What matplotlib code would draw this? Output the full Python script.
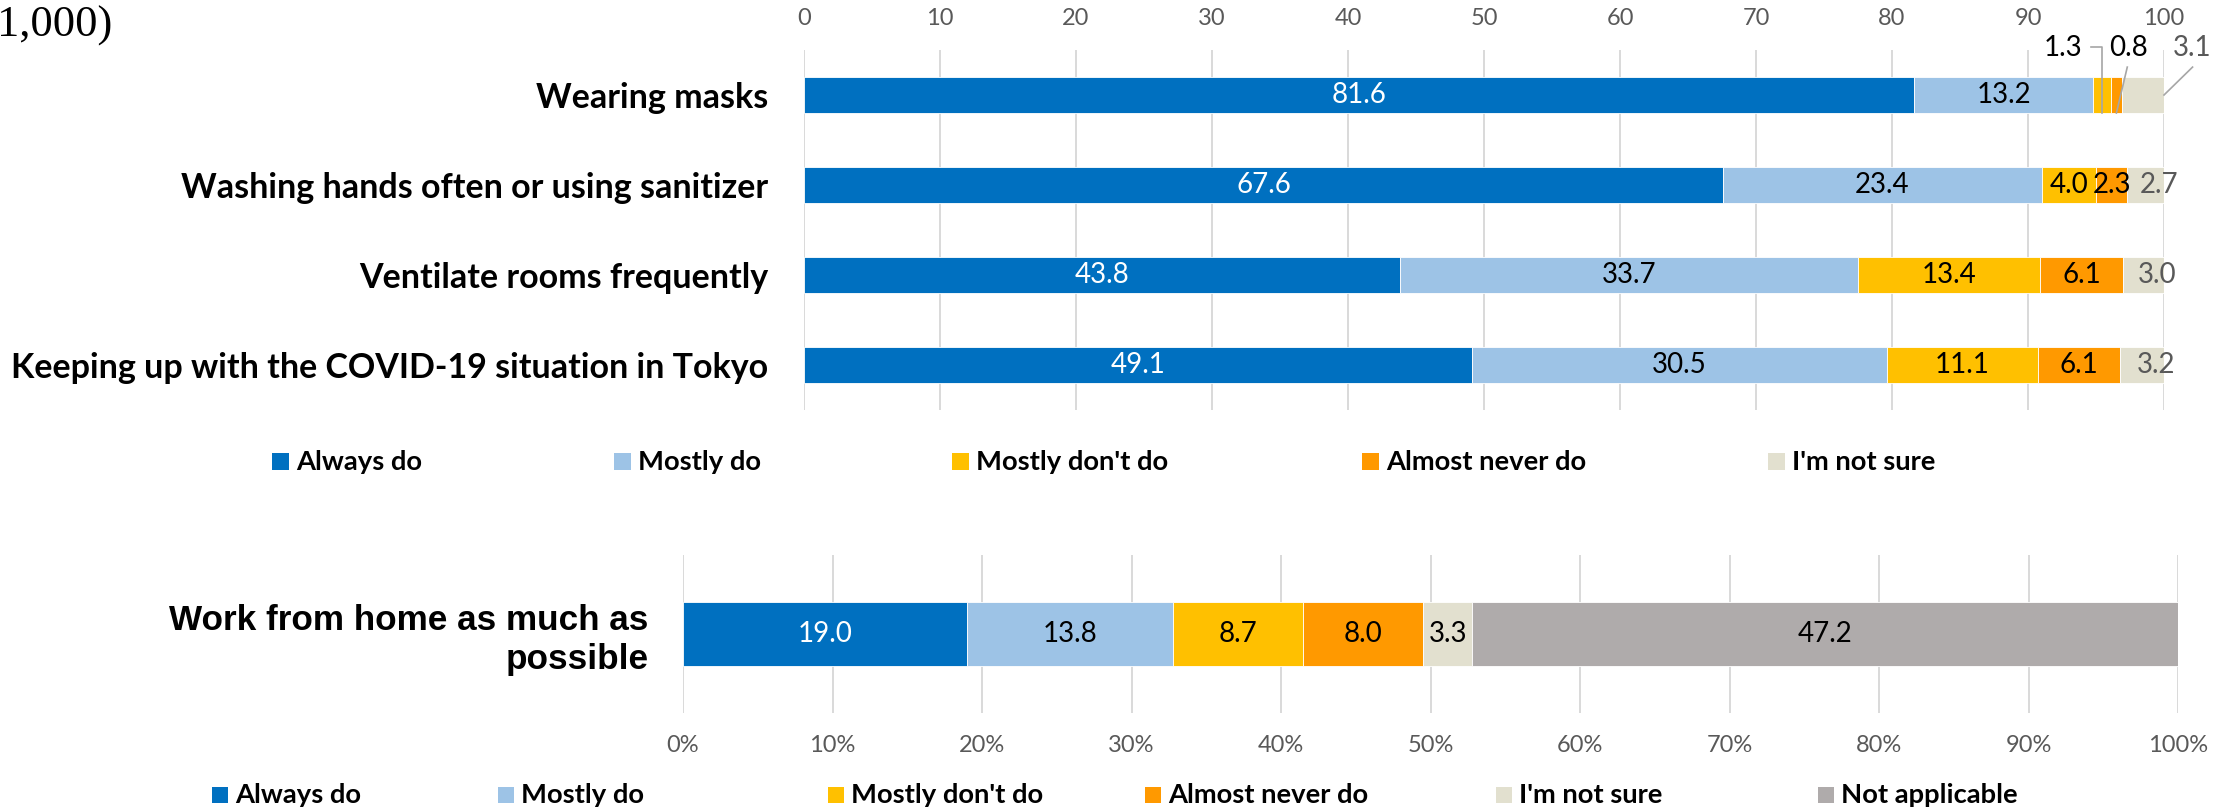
import numpy as np
import matplotlib
matplotlib.use("Agg")
import matplotlib.pyplot as plt
from matplotlib.patches import Rectangle

# data
categories = ["Wearing masks",
              "Washing hands often or using sanitizer",
              "Ventilate rooms frequently",
              "Keeping up with the COVID-19 situation in Tokyo"]
always_do = [81.6, 67.6, 43.8, 49.1]
mostly_do = [13.2, 23.4, 33.7, 30.5]
mostly_dont = [1.3, 4.0, 13.4, 11.1]
almost_never = [0.8, 2.3, 6.1, 6.1]
not_sure = [3.1, 2.7, 3.0, 3.2]

wfh_label = "Work from home as much as\npossible"
wfh_values = [19.0, 13.8, 8.7, 8.0, 3.3, 47.2]

top_legend = ["Always do", "Mostly do", "Mostly don't do", "Almost never do", "I'm not sure"]
bottom_legend = ["Always do", "Mostly do", "Mostly don't do", "Almost never do", "I'm not sure",
                 "Not applicable"]
top_ticks = list(range(0, 101, 10))
bottom_ticks = list(range(0, 101, 10))
sample_note = "(n=1,000)"

colors = ["#0070C0", "#9DC3E6", "#FFC000", "#FF9900", "#E2E0CF", "#AFABAB"]
top_text_colors = ["white", "black", "black", "black", "#595959"]
bottom_text_colors = ["white", "black", "black", "black", "black", "black"]

W, H = 2223, 809
FONT = "Lato"
GRID = "#D9D9D9"
TICK = "#595959"
VAL_SIZE = 20

fig = plt.figure(figsize=(W / 100, H / 100), dpi=100)


def px_rect(x0, y0, x1, y1):
    return [x0 / W, 1 - y1 / H, (x1 - x0) / W, (y1 - y0) / H]


# ---- top chart ----
ax1 = fig.add_axes(px_rect(804, 50, 2164, 410))
series = [always_do, mostly_do, mostly_dont, almost_never, not_sure]
y = np.arange(len(categories))
left = np.zeros(len(categories))
for i, vals in enumerate(series):
    vals = np.array(vals)
    ax1.barh(y, vals, left=left, height=0.4, color=colors[i], edgecolor="white", linewidth=0.6, zorder=3)
    # the "not sure" labels sit a little right of centre in the original
    shift = 1.0 if i == 4 else 0.0
    for j in range(len(categories)):
        if j == 0 and i >= 2:
            continue  # small segments labelled outside with leader lines
        ax1.text(left[j] + vals[j] / 2 + shift, y[j], f"{vals[j]:.1f}", ha="center", va="center",
                 color=top_text_colors[i], fontsize=VAL_SIZE, family=FONT, zorder=4)
    left += vals

# outside labels for the small segments of "Wearing masks"
lead = "#A6A6A6"
start_yellow = always_do[0] + mostly_do[0]
mid_yellow = start_yellow + mostly_dont[0] / 2
mid_orange = start_yellow + mostly_dont[0] + almost_never[0] / 2
bar_end = start_yellow + mostly_dont[0] + almost_never[0] + not_sure[0]
ax1.plot([mid_yellow - 0.8, mid_yellow, mid_yellow], [-0.53, -0.53, 0.2], color=lead, lw=1.2,
         clip_on=False, zorder=5)
ax1.text(92.6, -0.52, f"{mostly_dont[0]:.1f}", ha="center", va="center", fontsize=VAL_SIZE,
         family=FONT, color="black")
ax1.plot([97.3, mid_orange], [-0.31, 0.2], color=lead, lw=1.2, clip_on=False, zorder=5)
ax1.text(97.4, -0.52, f"{almost_never[0]:.1f}", ha="center", va="center", fontsize=VAL_SIZE,
         family=FONT, color="black")
ax1.plot([102.1, bar_end], [-0.31, 0.0], color=lead, lw=1.2, clip_on=False, zorder=5)
ax1.text(102.1, -0.52, f"{not_sure[0]:.1f}", ha="center", va="center", fontsize=VAL_SIZE,
         family=FONT, color="#595959")

ax1.set_xlim(0, 100)
ax1.set_ylim(3.5, -0.5)
ax1.xaxis.tick_top()
ax1.set_xticks(top_ticks)
ax1.set_xticklabels([str(t) for t in top_ticks], fontsize=17, color=TICK, family=FONT)
ax1.set_yticks(y)
ax1.set_yticklabels(categories, fontsize=24.5, fontweight="bold", family=FONT)
ax1.tick_params(axis="x", length=0, pad=15)
ax1.tick_params(axis="y", length=0, pad=26)
ax1.grid(axis="x", color=GRID, lw=1.4, zorder=0)
for s in ax1.spines.values():
    s.set_visible(False)

# ---- bottom chart ----
ax2 = fig.add_axes(px_rect(683, 555, 2178, 713))
left = 0.0
for i, v in enumerate(wfh_values):
    ax2.barh(0, v, left=left, height=0.405, color=colors[i], edgecolor="white", linewidth=0.6, zorder=3)
    ax2.text(left + v / 2, 0, f"{v:.1f}", ha="center", va="center", color=bottom_text_colors[i],
             fontsize=VAL_SIZE, family=FONT, zorder=4)
    left += v
ax2.set_xlim(0, 100)
ax2.set_ylim(-0.5, 0.5)
ax2.set_xticks(bottom_ticks)
ax2.set_xticklabels([f"{t}%" for t in bottom_ticks], fontsize=17, color=TICK, family=FONT)
ax2.set_yticks([0])
ax2.set_yticklabels([wfh_label], fontsize=25.3, fontweight="bold", family="Liberation Sans",
                    linespacing=1.2)
ax2.tick_params(axis="x", length=0, pad=16)
ax2.tick_params(axis="y", length=0, pad=25)
ax2.grid(axis="x", color=GRID, lw=1.4, zorder=0)
for s in ax2.spines.values():
    s.set_visible(False)


# ---- legends (placed by hand like the Excel original) ----
def legend_row(labels, lefts, yc, size=17):
    for lab, x, c in zip(labels, lefts, colors):
        fig.add_artist(Rectangle((x / W, 1 - (yc + size / 2) / H), size / W, size / H,
                                 transform=fig.transFigure, color=c, lw=0))
        fig.text((x + size + 7) / W, 1 - yc / H, lab, ha="left", va="center", fontsize=19.7,
                 fontweight="bold", family=FONT)


legend_row(top_legend, [272, 614, 952, 1362, 1768], 462)
legend_row(bottom_legend, [212, 498, 828, 1145, 1496, 1818], 795, size=16)

# the source image crops this note at the left edge
fig.text(112 / W, 1 - 37 / H, sample_note, ha="right", va="baseline", fontsize=32,
         family="Liberation Serif")

fig.savefig("out.png", dpi=100)
